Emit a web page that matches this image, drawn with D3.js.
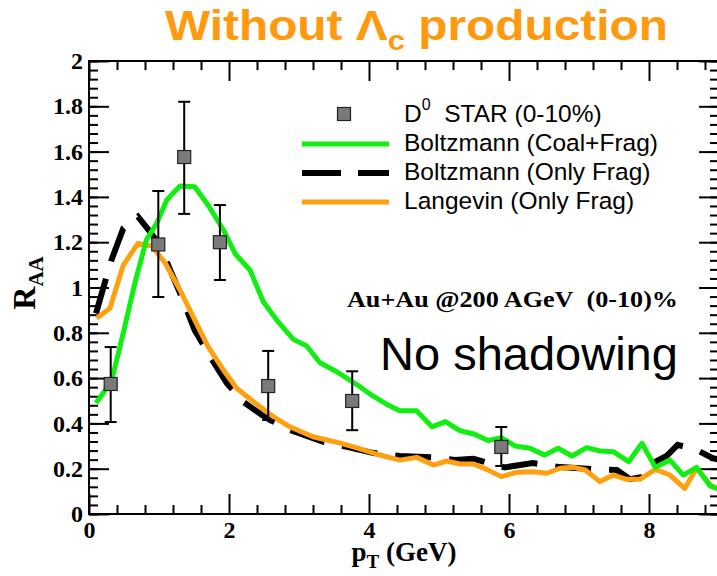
<!DOCTYPE html>
<html>
<head>
<meta charset="utf-8">
<script src="https://cdn.jsdelivr.net/npm/d3@7"></script>
<style>
  body { margin: 0; background: #fff; }
  svg { display: block; }
</style>
</head>
<body>
<svg id="chart" width="717" height="576"></svg>
<script>
(function(){

  // STAR D0 data (0-10%)
  var starPt    = [0.31, 0.99, 1.36, 1.87, 2.56, 3.76, 5.89];
  var starRaa   = [0.574, 1.19, 1.576, 1.20, 0.565, 0.499, 0.296];
  var starErrHi = [0.737, 1.426, 1.82, 1.364, 0.72, 0.63, 0.384];
  var starErrLo = [0.406, 0.958, 1.325, 1.033, 0.415, 0.37, 0.212];

  // Boltzmann (Coal+Frag)
  var coalPt  = [0.10, 0.32, 0.49, 0.66, 0.82, 0.97, 1.11, 1.30, 1.51, 1.70, 1.92, 2.09, 2.30, 2.49, 2.70, 2.92, 3.11, 3.30, 3.54, 3.87, 4.06, 4.25, 4.44, 4.68, 4.90, 5.09, 5.30, 5.51, 5.70, 5.89, 6.09, 6.30, 6.51, 6.70, 6.90, 7.11, 7.30, 7.49, 7.71, 7.90, 8.09, 8.30, 8.49, 8.68, 8.87, 9.0];
  var coalRaa = [0.49, 0.584, 0.80, 1.026, 1.21, 1.285, 1.386, 1.448, 1.445, 1.364, 1.254, 1.148, 1.077, 0.937, 0.849, 0.771, 0.742, 0.668, 0.628, 0.562, 0.52, 0.485, 0.456, 0.456, 0.385, 0.408, 0.368, 0.352, 0.324, 0.337, 0.300, 0.290, 0.260, 0.290, 0.256, 0.293, 0.278, 0.275, 0.231, 0.312, 0.206, 0.238, 0.172, 0.206, 0.124, 0.11];

  // Boltzmann (Only Frag)
  var fragPt  = [0.10, 0.23, 0.32, 0.49, 0.70, 0.87, 0.99, 1.11, 1.30, 1.51, 1.73, 1.97, 2.20, 2.47, 2.59, 2.87, 3.35, 3.70, 4.05, 4.44, 4.92, 5.23, 5.49, 5.94, 6.34, 6.73, 7.20, 7.54, 7.73, 7.90, 8.06, 8.25, 8.41, 8.68, 8.91, 9.0];
  var fragRaa = [0.886, 1.026, 1.121, 1.261, 1.313, 1.247, 1.195, 1.114, 0.975, 0.812, 0.695, 0.577, 0.496, 0.437, 0.415, 0.371, 0.319, 0.295, 0.27, 0.256, 0.250, 0.238, 0.244, 0.206, 0.225, 0.207, 0.198, 0.194, 0.154, 0.163, 0.225, 0.256, 0.305, 0.283, 0.247, 0.24];

  // Langevin (Only Frag)
  var langPt  = [0.11, 0.30, 0.49, 0.70, 0.90, 1.09, 1.30, 1.51, 1.70, 1.92, 2.11, 2.35, 2.63, 2.87, 3.20, 3.59, 3.85, 4.10, 4.44, 4.68, 4.92, 5.11, 5.30, 5.49, 5.68, 5.89, 6.11, 6.35, 6.54, 6.73, 6.92, 7.09, 7.30, 7.49, 7.68, 7.87, 8.09, 8.30, 8.51, 8.68, 8.89, 9.0];
  var langRaa = [0.864, 0.908, 1.099, 1.195, 1.183, 1.107, 0.989, 0.857, 0.739, 0.636, 0.555, 0.496, 0.430, 0.385, 0.341, 0.313, 0.29, 0.265, 0.238, 0.250, 0.216, 0.234, 0.221, 0.221, 0.197, 0.165, 0.184, 0.187, 0.180, 0.202, 0.206, 0.194, 0.143, 0.172, 0.153, 0.153, 0.197, 0.172, 0.113, 0.202, 0.124, 0.11];

  var xMajor = [0, 2, 4, 6, 8];
  var yMajor = [0, 0.2, 0.4, 0.6, 0.8, 1, 1.2, 1.4, 1.6, 1.8, 2];

  var legendLabels = ["STAR (0-10%)", "Boltzmann (Coal+Frag)", "Boltzmann (Only Frag)", "Langevin (Only Frag)"];

  var green = '#11ee11',
      orange = '#ffa010';

  var margin = { left: 89, top: 61, right: 719, bottom: 514 };

  var x = d3.scaleLinear().domain([0, 9]).range([margin.left, margin.right]);
  var y = d3.scaleLinear().domain([0, 2]).range([margin.bottom, margin.top]);

  var svg = d3.select('#chart');
  svg.append('rect').attr('width', 717).attr('height', 576).attr('fill', '#fff');

  svg.append('defs').append('clipPath').attr('id', 'plotclip')
    .append('rect')
    .attr('x', margin.left).attr('y', margin.top)
    .attr('width', margin.right - margin.left)
    .attr('height', margin.bottom - margin.top);

  // --- axes, all ticks drawn inward
  var serif = '"Liberation Serif", "Times New Roman", serif';
  var fmt = d3.format('~g');
  var xMinor = d3.range(0, 9.001, 0.4).filter(function(v){ return Math.abs(v/2 - Math.round(v/2)) > 1e-6; });
  var yMinor = d3.range(0, 2.001, 0.04);

  function styleAxis(g, showLabels) {
    g.select('.domain').remove();
    g.selectAll('line').attr('stroke', '#000').attr('stroke-width', 2);
    g.selectAll('text')
      .style('font-family', serif)
      .style('font-weight', 'bold')
      .style('font-size', '24px')
      .attr('fill', '#000');
    if (!showLabels) g.selectAll('text').remove();
  }

  // bottom
  svg.append('g').attr('transform', 'translate(0,' + margin.bottom + ')')
    .call(d3.axisBottom(x).tickValues(xMinor).tickSize(-9).tickFormat(''))
    .call(styleAxis, false);
  svg.append('g').attr('transform', 'translate(0,' + margin.bottom + ')')
    .call(d3.axisBottom(x).tickValues(xMajor).tickSize(-20).tickPadding(7).tickFormat(fmt))
    .call(styleAxis, true);
  // top
  svg.append('g').attr('transform', 'translate(0,' + margin.top + ')')
    .call(d3.axisTop(x).tickValues(xMinor).tickSize(-9).tickFormat(''))
    .call(styleAxis, false);
  svg.append('g').attr('transform', 'translate(0,' + margin.top + ')')
    .call(d3.axisTop(x).tickValues(xMajor).tickSize(-20).tickFormat(''))
    .call(styleAxis, false);
  // left
  svg.append('g').attr('transform', 'translate(' + margin.left + ',0)')
    .call(d3.axisLeft(y).tickValues(yMinor).tickSize(-9).tickFormat(''))
    .call(styleAxis, false);
  svg.append('g').attr('transform', 'translate(' + margin.left + ',0)')
    .call(d3.axisLeft(y).tickValues(yMajor).tickSize(-20).tickPadding(6).tickFormat(fmt))
    .call(styleAxis, true);
  // right
  svg.append('g').attr('transform', 'translate(' + margin.right + ',0)')
    .call(d3.axisRight(y).tickValues(yMinor).tickSize(-9).tickFormat(''))
    .call(styleAxis, false);
  svg.append('g').attr('transform', 'translate(' + margin.right + ',0)')
    .call(d3.axisRight(y).tickValues(yMajor).tickSize(-20).tickFormat(''))
    .call(styleAxis, false);

  // frame
  svg.append('rect')
    .attr('x', margin.left).attr('y', margin.top)
    .attr('width', margin.right - margin.left)
    .attr('height', margin.bottom - margin.top)
    .attr('fill', 'none').attr('stroke', '#000').attr('stroke-width', 2);

  // --- curves
  var plot = svg.append('g').attr('clip-path', 'url(#plotclip)');
  function curve(xs, ys) {
    return d3.line().x(function(d){ return x(d); }).y(function(d, i){ return y(ys[i]); })(xs);
  }

  plot.append('path').attr('d', curve(fragPt, fragRaa))
    .attr('fill', 'none').attr('stroke', '#000').attr('stroke-width', 6)
    .attr('stroke-dasharray', '36,18');
  plot.append('path').attr('d', curve(langPt, langRaa))
    .attr('fill', 'none').attr('stroke', orange).attr('stroke-width', 5)
    .attr('stroke-linejoin', 'round');
  plot.append('path').attr('d', curve(coalPt, coalRaa))
    .attr('fill', 'none').attr('stroke', green).attr('stroke-width', 5)
    .attr('stroke-linejoin', 'round');

  // --- STAR points with error bars
  var pts = plot.selectAll('g.pt')
    .data(starPt)
    .enter()
    .append('g')
    .attr('class', 'pt');
  pts.append('line')
    .attr('x1', function(d){ return x(d); }).attr('x2', function(d){ return x(d); })
    .attr('y1', function(d, i){ return y(starErrLo[i]); })
    .attr('y2', function(d, i){ return y(starErrHi[i]); })
    .attr('stroke', '#000').attr('stroke-width', 2);
  [starErrLo, starErrHi].forEach(function(arr) {
    pts.append('line')
      .attr('x1', function(d){ return x(d) - 6; }).attr('x2', function(d){ return x(d) + 6; })
      .attr('y1', function(d, i){ return y(arr[i]); })
      .attr('y2', function(d, i){ return y(arr[i]); })
      .attr('stroke', '#000').attr('stroke-width', 2);
  });
  pts.append('rect')
    .attr('x', function(d){ return x(d) - 6.5; })
    .attr('y', function(d, i){ return y(starRaa[i]) - 6.5; })
    .attr('width', 13).attr('height', 13)
    .attr('fill', '#7a7a7a').attr('stroke', '#222').attr('stroke-width', 1.2);

  // --- legend
  var sans = '"Liberation Sans", Arial, sans-serif';
  var legend = svg.append('g');
  var legX = 404, rowY = [122, 151, 180, 209];

  legend.append('rect').attr('x', 344 - 6.5).attr('y', 114 - 6.5)
    .attr('width', 13).attr('height', 13)
    .attr('fill', '#7a7a7a').attr('stroke', '#222').attr('stroke-width', 1.2);
  var styles = [null, { c: green, dash: null }, { c: '#000', dash: '39,17' }, { c: orange, dash: null }];
  styles.forEach(function(s, i) {
    if (!s) return;
    legend.append('line')
      .attr('x1', 302).attr('x2', 389)
      .attr('y1', rowY[i] - 7).attr('y2', rowY[i] - 7)
      .attr('stroke', s.c).attr('stroke-width', i == 2 ? 6 : 5)
      .attr('stroke-dasharray', s.dash);
  });
  legend.selectAll('text')
    .data(legendLabels)
    .enter()
    .append('text')
    .attr('x', legX)
    .attr('y', function(d, i){ return rowY[i]; })
    .style('font-family', sans)
    .style('font-size', '24.5px')
    .attr('fill', '#000')
    .each(function(d, i) {
      var t = d3.select(this);
      if (i == 0) {
        t.append('tspan').text('D');
        t.append('tspan').attr('dy', -12).style('font-size', '16px').text('0');
        t.append('tspan').attr('dy', 12).text('\u00a0 ' + d);
      } else {
        t.text(d);
      }
    });

  // --- annotations
  svg.append('text')
    .attr('x', 347).attr('y', 307)
    .attr('textLength', 331).attr('lengthAdjust', 'spacingAndGlyphs')
    .style('font-family', serif).style('font-weight', 'bold').style('font-size', '24px')
    .attr('fill', '#000')
    .text('Au+Au @200 AGeV\u00a0\u00a0(0-10)%');

  svg.append('text')
    .attr('x', 380).attr('y', 370)
    .style('font-family', sans).style('font-size', '47px')
    .attr('fill', '#000')
    .text('No shadowing');

  // --- axis titles
  var xt = svg.append('text')
    .attr('x', x(4.5)).attr('y', 561)
    .attr('text-anchor', 'middle')
    .style('font-family', serif).style('font-weight', 'bold').style('font-size', '27px')
    .attr('fill', '#000');
  xt.append('tspan').text('p');
  xt.append('tspan').attr('dy', 7).style('font-size', '19px').text('T');
  xt.append('tspan').attr('dy', -7).text(' (GeV)');

  var yt = svg.append('text')
    .attr('transform', 'translate(35,' + 283 + ') rotate(-90)')
    .attr('text-anchor', 'middle')
    .style('font-family', serif).style('font-weight', 'bold').style('font-size', '32px')
    .attr('fill', '#000');
  yt.append('tspan').text('R');
  yt.append('tspan').attr('dy', 8).style('font-size', '21px').text('AA');

  // --- title
  var title = svg.append('text')
    .attr('x', 165).attr('y', 40)
    .style('font-family', '"Liberation Sans Narrow", "Liberation Sans", Arial, sans-serif')
    .style('font-weight', 'bold').style('font-size', '43px')
    .attr('fill', '#ff9a10');
  title.append('tspan').text('Without \u039b');
  title.append('tspan').attr('dy', 10).style('font-size', '28px').text('c');
  title.append('tspan').attr('dy', -10).text(' production');
  // squeeze to the condensed width seen in the picture
  var tw = title.node().getComputedTextLength();
  var target = 503;
  if (tw > 0) {
    var k = target / tw;
    title.attr('transform', 'translate(165,0) scale(' + k + ',1) translate(-165,0)');
  }

})();
</script>
</body>
</html>
